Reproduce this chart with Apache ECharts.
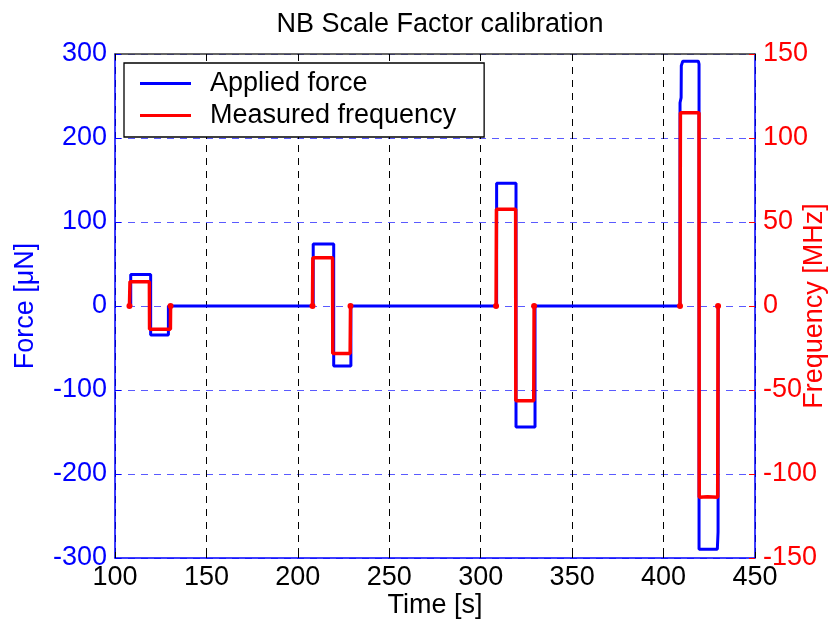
<!DOCTYPE html>
<html>
<head>
<meta charset="utf-8">
<script src="https://cdn.jsdelivr.net/npm/echarts@6/dist/echarts.min.js"></script>
<style>html,body{margin:0;padding:0;background:#fff;}#c{width:834px;height:627px;}</style>
</head>
<body>
<div id="c"></div>
<script>
// Applied force (µN) vs time (s)
var forceT = [108.6, 108.6, 119.5, 119.5, 129.2, 129.2,
              208.4, 208.4, 219.6, 219.6, 229.0, 229.0,
              308.7, 308.7, 319.3, 319.3, 329.7, 329.7,
              409.0, 409.0, 409.6, 409.7, 410.5, 419.0, 419.4, 419.4, 429.4, 429.8, 429.9];
var forceV = [0, 37.5, 37.5, -34.5, -34.5, 0,
              0, 73.8, 73.8, -71.4, -71.4, 0,
              0, 146, 146, -144, -144, 0,
              0, 242, 248, 286, 291.5, 291.5, 288, -289.5, -289.5, -269, 0];
// Measured frequency (MHz) vs time (s); null = no data between runs
var freqT = [107.9, 108.2, 113.0, 113.6, 118.8, 118.9, 130.3, 130.4, null,
             208.0, 208.2, 219.0, 219.1, 228.6, 228.8, null,
             308.4, 308.6, 319.1, 319.2, 329.0, 329.2, null,
             409.0, 409.2, 414.0, 414.6, 419.4, 419.5, 424.0, 429.6, 429.8];
var freqV = [0, 14.5, 14.5, 15.2, 14.5, -13.9, -13.9, 0, null,
             0, 28.7, 28.7, -28.2, -28.2, 0, null,
             0, 57.6, 57.6, -56.4, -56.4, 0, null,
             0, 115, 115, 115.6, 115, -113.9, -113.6, -113.9, 0];
var xTicks = {min: 100, max: 450, step: 50};
var forceTicks = {min: -300, max: 300, step: 100};
var freqTicks = {min: -150, max: 150, step: 50};

var FONT = 'Liberation Sans, Arial, Helvetica, sans-serif';
var FS = 27;

var forceData = forceT.map(function (t, i) { return [t, forceV[i]]; });
var freqData = freqT.map(function (t, i) {
  if (t === null) return [null, null];
  var isEnd = (i === 0 || freqT[i - 1] === null || i === freqT.length - 1 || freqT[i + 1] === null);
  return isEnd ? {value: [t, freqV[i]], symbol: 'circle', symbolSize: 6} : {value: [t, freqV[i]], symbol: 'none'};
});

var chart = echarts.init(document.getElementById('c'), null, {renderer: 'canvas'});
chart.setOption({
  animation: false,
  backgroundColor: '#fff',
  title: {
    text: 'NB Scale Factor calibration',
    left: 435, top: 6, textAlign: 'center',
    textStyle: {fontFamily: FONT, fontSize: FS, fontWeight: 'normal', color: '#000'}
  },
  grid: {left: 115, right: 79, top: 54, bottom: 69, containLabel: false, outerBoundsMode: 'none'},
  legend: {
    orient: 'vertical', left: 124, top: 63,
    backgroundColor: '#fff', borderColor: '#000', borderWidth: 1.3,
    padding: [7, 28, 8, 16], itemGap: 5,
    itemWidth: 51, itemHeight: 3, icon: 'rect',
    textStyle: {fontFamily: FONT, fontSize: FS, color: '#000', padding: [0, 0, 0, 14]},
    data: ['Applied force', 'Measured frequency'], z: 10
  },
  xAxis: [{
    type: 'value', position: 'bottom', min: xTicks.min, max: xTicks.max, interval: xTicks.step,
    name: 'Time [s]', nameLocation: 'middle', nameGap: 34, nameMoveOverlap: false,
    nameTextStyle: {fontFamily: FONT, fontSize: FS, color: '#000'},
    axisLine: {show: true, onZero: false, lineStyle: {color: '#0000ff', width: 1.5}},
    axisTick: {show: true, inside: true, length: 6, lineStyle: {color: '#000'}},
    axisLabel: {fontFamily: FONT, fontSize: FS, color: '#000', margin: 6},
    splitLine: {show: true, lineStyle: {color: '#000', type: [7, 6], width: 1}}
  }, {
    type: 'value', position: 'top', min: xTicks.min, max: xTicks.max, interval: xTicks.step,
    axisLine: {show: true, onZero: false, lineStyle: {color: '#333', width: 1.5}},
    axisTick: {show: true, inside: true, length: 6, lineStyle: {color: '#000'}},
    axisLabel: {show: false}, splitLine: {show: false}
  }],
  yAxis: [{
    type: 'value', position: 'left', min: forceTicks.min, max: forceTicks.max, interval: forceTicks.step,
    name: 'Force [μN]', nameLocation: 'middle', nameGap: 76, nameRotate: 90, nameMoveOverlap: false,
    nameTextStyle: {fontFamily: FONT, fontSize: FS, color: '#0000ff'},
    axisLine: {show: true, onZero: false, lineStyle: {color: '#0000ff', width: 1.5}},
    axisTick: {show: true, inside: true, length: 6, lineStyle: {color: '#0000ff'}},
    axisLabel: {fontFamily: FONT, fontSize: FS, color: '#0000ff', margin: 8},
    splitLine: {show: true, lineStyle: {color: '#5a5aff', type: [7, 6], width: 1}}
  }, {
    type: 'value', position: 'right', min: freqTicks.min, max: freqTicks.max, interval: freqTicks.step,
    name: 'Frequency [MHz]', nameLocation: 'middle', nameGap: 46, nameRotate: 90, nameMoveOverlap: false,
    nameTextStyle: {fontFamily: FONT, fontSize: FS, color: '#ff0000'},
    axisLine: {show: true, onZero: false, lineStyle: {color: '#0000ff', width: 1.5}},
    axisTick: {show: true, inside: true, length: 6, lineStyle: {color: '#ff0000'}},
    axisLabel: {fontFamily: FONT, fontSize: FS, color: '#ff0000', margin: 8},
    splitLine: {show: false}
  }],
  series: [{
    name: 'Applied force', type: 'line', xAxisIndex: 0, yAxisIndex: 0,
    data: forceData, symbol: 'none', showSymbol: false,
    lineStyle: {color: '#0000ff', width: 3}, itemStyle: {color: '#0000ff'}, z: 2
  }, {
    name: 'Measured frequency', type: 'line', xAxisIndex: 0, yAxisIndex: 1,
    data: freqData, symbol: 'none', showSymbol: true, connectNulls: false,
    lineStyle: {color: '#ff0000', width: 3.5}, itemStyle: {color: '#ff0000'}, z: 3
  }]
});
</script>
</body>
</html>
